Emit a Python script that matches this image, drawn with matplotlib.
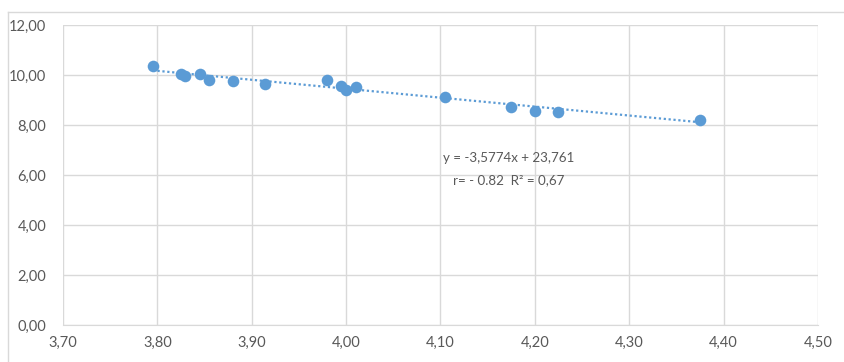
import matplotlib
matplotlib.use("Agg")
import matplotlib.pyplot as plt
from matplotlib.lines import Line2D
from matplotlib.ticker import FuncFormatter

plt.rcParams['font.family'] = ['Lato', 'DejaVu Sans']

x_vals = [3.795, 3.825, 3.829, 3.845, 3.855, 3.880, 3.914, 3.980, 3.995, 4.000,
          4.010, 4.105, 4.175, 4.200, 4.225, 4.375]
y_vals = [10.36, 10.04, 9.97, 10.05, 9.80, 9.76, 9.64, 9.80, 9.56, 9.38,
          9.51, 9.13, 8.71, 8.57, 8.53, 8.20]
slope = -3.5774
intercept = 23.761
x_ticks = [3.70, 3.80, 3.90, 4.00, 4.10, 4.20, 4.30, 4.40, 4.50]
y_ticks = [0, 2, 4, 6, 8, 10, 12]
eq_label = "y = -3,5774x + 23,761"
r_label = "r= - 0.82  R² = 0,67"

W, H = 845, 362
fig = plt.figure(figsize=(W / 100, H / 100), dpi=100)
ax = fig.add_axes([63 / W, (H - 325) / H, (818 - 63) / W, (325 - 25) / H])

grid_c = '#D9D9D9'
text_c = '#595959'
blue = '#5B9BD5'

ax.set_xlim(x_ticks[0], x_ticks[-1])
ax.set_ylim(y_ticks[0], y_ticks[-1])
ax.set_xticks(x_ticks)
ax.set_yticks(y_ticks)
fmt = FuncFormatter(lambda v, p: f"{v:.2f}".replace('.', ','))
ax.xaxis.set_major_formatter(fmt)
ax.yaxis.set_major_formatter(fmt)
ax.grid(True, color=grid_c, linewidth=1)
ax.set_axisbelow(True)
for s in ['top', 'right', 'left']:
    ax.spines[s].set_visible(False)
ax.spines['bottom'].set_color(grid_c)
ax.tick_params(length=0, colors=text_c, labelsize=10.5)
ax.tick_params(axis='x', pad=8)
ax.tick_params(axis='y', pad=12)

xmin, xmax = min(x_vals), max(x_vals)
ax.plot([xmin, xmax], [slope * xmin + intercept, slope * xmax + intercept],
        color=blue, linewidth=1.6, linestyle=(0, (1, 1.2)), zorder=2)
ax.scatter(x_vals, y_vals, s=70, color=blue, zorder=3, linewidths=0)

ax.text(4.172, 6.68, eq_label, color=text_c, fontsize=9.6, ha='center', va='center')
ax.text(4.172, 5.80, r_label, color=text_c, fontsize=9.6, ha='center', va='center')

# outer chart border (top and left visible)
fig.add_artist(Line2D([8 / W, 8 / W], [0, 1 - 12 / H], transform=fig.transFigure, color=grid_c, lw=1))
fig.add_artist(Line2D([8 / W, 1], [1 - 12 / H, 1 - 12 / H], transform=fig.transFigure, color=grid_c, lw=1))

fig.savefig('out.png', dpi=100)
